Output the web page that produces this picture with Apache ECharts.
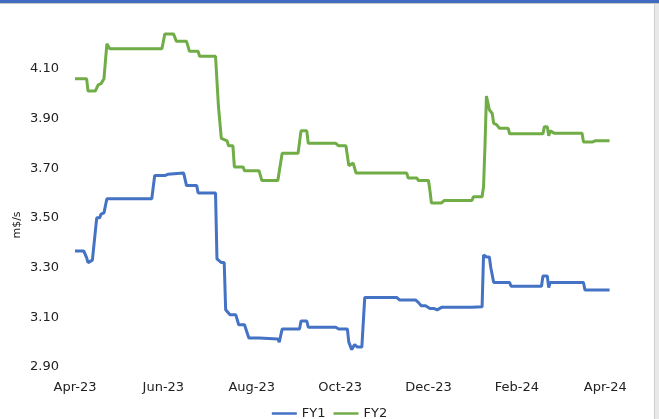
<!DOCTYPE html>
<html>
<head>
<meta charset="utf-8">
<script src="https://cdn.jsdelivr.net/npm/echarts@6/dist/echarts.min.js"></script>
<style>
html,body{margin:0;padding:0;background:#fff;}
#chart{width:659px;height:419px;}
</style>
</head>
<body>
<div id="chart"></div>
<script>
// ---- data ----
const xTickLabels = ['Apr-23','Jun-23','Aug-23','Oct-23','Dec-23','Feb-24','Apr-24'];
const yTickLabels = [2.9, 3.1, 3.3, 3.5, 3.7, 3.9, 4.1];
const yAxisTitle = 'm$/s';
const seriesNames = ['FY1', 'FY2'];

const fy1Dates = ['2023-04-01','2023-04-07','2023-04-09','2023-04-10','2023-04-13','2023-04-14','2023-04-16','2023-04-18','2023-04-19','2023-04-21','2023-04-23','2023-05-24','2023-05-26','2023-06-02','2023-06-04','2023-06-15','2023-06-17','2023-06-24','2023-06-25','2023-07-07','2023-07-08','2023-07-11','2023-07-13','2023-07-14','2023-07-17','2023-07-21','2023-07-23','2023-07-27','2023-07-30','2023-08-06','2023-08-07','2023-08-19','2023-08-20','2023-08-22','2023-09-03','2023-09-04','2023-09-08','2023-09-09','2023-09-28','2023-09-30','2023-10-06','2023-10-07','2023-10-09','2023-10-11','2023-10-13','2023-10-16','2023-10-18','2023-11-09','2023-11-11','2023-11-22','2023-11-24','2023-11-26','2023-11-29','2023-12-02','2023-12-03','2023-12-05','2023-12-07','2023-12-10','2023-12-31','2024-01-07','2024-01-08','2024-01-10','2024-01-12','2024-01-13','2024-01-14','2024-01-15','2024-01-26','2024-01-27','2024-02-17','2024-02-18','2024-02-21','2024-02-22','2024-02-23','2024-03-17','2024-03-18','2024-04-04'];
const fy1Values = [3.367,3.367,3.34,3.32,3.33,3.33,3.50,3.50,3.515,3.52,3.577,3.577,3.67,3.67,3.675,3.68,3.63,3.63,3.60,3.60,3.335,3.32,3.32,3.13,3.11,3.11,3.07,3.07,3.017,3.017,3.013,3.013,3.00,3.053,3.053,3.085,3.085,3.06,3.06,3.053,3.053,3.00,2.97,2.99,2.98,2.98,3.18,3.18,3.17,3.17,3.16,3.146,3.146,3.135,3.14,3.135,3.13,3.14,3.14,3.142,3.35,3.343,3.343,3.30,3.30,3.24,3.24,3.225,3.225,3.266,3.266,3.22,3.24,3.24,3.21,3.21];

const fy2Dates = ['2023-04-01','2023-04-09','2023-04-10','2023-04-15','2023-04-17','2023-04-19','2023-04-21','2023-04-23','2023-04-25','2023-05-31','2023-06-02','2023-06-08','2023-06-10','2023-06-17','2023-06-19','2023-06-25','2023-06-26','2023-07-07','2023-07-09','2023-07-11','2023-07-15','2023-07-16','2023-07-19','2023-07-20','2023-07-26','2023-07-27','2023-08-06','2023-08-08','2023-08-19','2023-08-20','2023-08-22','2023-09-02','2023-09-04','2023-09-08','2023-09-09','2023-09-28','2023-09-30','2023-10-05','2023-10-07','2023-10-10','2023-10-12','2023-11-16','2023-11-17','2023-11-23','2023-11-24','2023-12-01','2023-12-02','2023-12-03','2023-12-10','2023-12-12','2023-12-31','2024-01-01','2024-01-07','2024-01-08','2024-01-09','2024-01-10','2024-01-11','2024-01-12','2024-01-14','2024-01-15','2024-01-17','2024-01-19','2024-01-25','2024-01-26','2024-02-18','2024-02-19','2024-02-21','2024-02-22','2024-02-23','2024-02-26','2024-03-16','2024-03-17','2024-03-23','2024-03-25','2024-04-04'];
const fy2Values = [4.06,4.06,4.01,4.01,4.035,4.04,4.06,4.20,4.18,4.18,4.24,4.24,4.21,4.21,4.17,4.17,4.15,4.15,3.95,3.82,3.81,3.79,3.79,3.705,3.705,3.69,3.69,3.65,3.65,3.645,3.76,3.76,3.85,3.85,3.80,3.80,3.79,3.79,3.71,3.72,3.68,3.68,3.66,3.66,3.65,3.65,3.61,3.56,3.56,3.57,3.57,3.585,3.585,3.625,3.79,3.99,3.99,3.935,3.92,3.88,3.875,3.86,3.86,3.838,3.838,3.867,3.867,3.83,3.85,3.84,3.84,3.805,3.805,3.81,3.81];

// ---- helpers ----
const BASE = Date.UTC(2023, 3, 1);
function dayOffset(s) {
  const p = s.split('-').map(Number);
  return (Date.UTC(p[0], p[1] - 1, p[2]) - BASE) / 86400000;
}
function pairs(dates, vals) { return dates.map((d, i) => [dayOffset(d), vals[i]]); }

const chart = echarts.init(document.getElementById('chart'), null, {renderer: 'canvas'});
const FONT = 'DejaVu Sans';
chart.setOption({
  animation: false,
  backgroundColor: '#ffffff',
  grid: {left: 75, right: 19, top: 19, bottom: 52, containLabel: false},
  xAxis: {
    type: 'value', min: 0, max: 390, interval: 61,
    axisLine: {show: false}, axisTick: {show: false}, splitLine: {show: false},
    axisLabel: {
      margin: 14, color: '#222', fontFamily: FONT, fontSize: 13,
      showMaxLabel: false,
      formatter: function (v) {
        const i = Math.round(v / 61);
        return (Math.abs(v - i * 61) < 0.01 && xTickLabels[i]) ? xTickLabels[i] : '';
      }
    }
  },
  yAxis: {
    type: 'value', min: 2.9, max: 4.3, interval: 0.1,
    axisLine: {show: false}, axisTick: {show: false}, splitLine: {show: false},
    axisLabel: {
      margin: 16, color: '#222', fontFamily: FONT, fontSize: 13,
      formatter: function (v) {
        for (const t of yTickLabels) if (Math.abs(v - t) < 1e-6) return t.toFixed(2);
        return '';
      }
    }
  },
  legend: {
    top: 402, left: 'center', icon: 'rect', itemWidth: 25, itemHeight: 2.5, itemGap: 8,
    textStyle: {color: '#222', fontFamily: FONT, fontSize: 13},
    data: seriesNames
  },
  series: [
    {name: seriesNames[0], type: 'line', data: pairs(fy1Dates, fy1Values), symbol: 'none',
     lineStyle: {color: '#4472C4', width: 3}, itemStyle: {color: '#4472C4'}},
    {name: seriesNames[1], type: 'line', data: pairs(fy2Dates, fy2Values), symbol: 'none',
     lineStyle: {color: '#70AD47', width: 3}, itemStyle: {color: '#70AD47'}}
  ],
  graphic: [
    {type: 'rect', shape: {x: 0, y: 0, width: 659, height: 3}, style: {fill: '#3f6cc0'}, silent: true},
    {type: 'rect', shape: {x: 0, y: 3, width: 659, height: 1}, style: {fill: '#c8c8c8'}, silent: true},
    {type: 'rect', shape: {x: 655, y: 4, width: 4, height: 415}, style: {fill: '#e8e8e8'}, silent: true},
    {type: 'rect', shape: {x: 654, y: 4, width: 1, height: 415}, style: {fill: '#cfcfcf'}, silent: true},
    {type: 'text', x: 17, y: 225, rotation: Math.PI / 2,
     style: {text: yAxisTitle, fill: '#222', font: '11px DejaVu Sans', align: 'center', verticalAlign: 'middle'}, silent: true}
  ]
});
</script>
</body>
</html>
